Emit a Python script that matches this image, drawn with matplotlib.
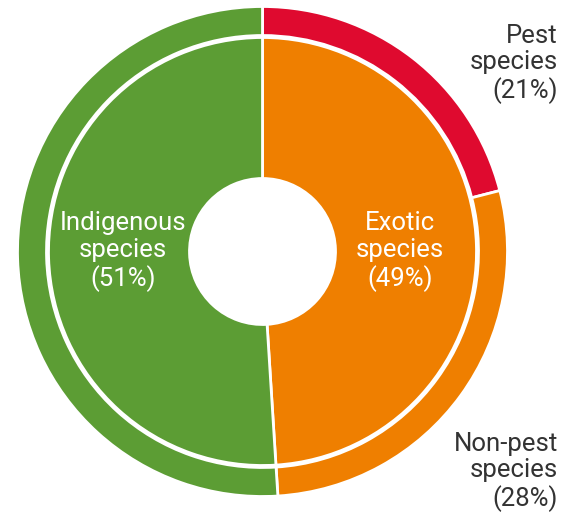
import matplotlib
matplotlib.use("Agg")
import matplotlib.pyplot as plt

plt.rcParams['font.family'] = ['Roboto', 'DejaVu Sans']

inner_labels = ["Exotic\nspecies\n(49%)", "Indigenous\nspecies\n(51%)"]
inner_values = [49, 51]
outer_labels = ["Pest\nspecies\n(21%)", "Non-pest\nspecies\n(28%)", "Indigenous"]
outer_values = [21, 28, 51]

GREEN = "#5c9d34"
ORANGE = "#ef7f00"
RED = "#df0a2f"
TEXT = "#333333"

W, H = 562, 516
cx, cy = 262.5, 251.5
R_out = 245
R_mid = 216
R_hole = 73
FS = 18.5
LS = 1.14

fig = plt.figure(figsize=(W / 100, H / 100), dpi=100)
ax = fig.add_axes([0, 0, 1, 1])

ax.pie(outer_values, radius=R_out, startangle=90, counterclock=False,
       colors=[RED, ORANGE, GREEN],
       wedgeprops=dict(width=R_out - R_mid, edgecolor="white", linewidth=2))
ax.pie(inner_values, radius=R_mid - 2, startangle=90, counterclock=False,
       colors=[ORANGE, GREEN],
       wedgeprops=dict(width=R_mid - 2 - R_hole, edgecolor="white", linewidth=2))

ax.set_xlim(-cx, W - cx)
ax.set_ylim(-(H - cy), cy)
ax.set_aspect("equal")
ax.axis("off")

ax.text(137.5, 0, inner_labels[0], ha="center", va="center", color="white",
        fontsize=FS, linespacing=LS)
ax.text(-139.5, 0, inner_labels[1], ha="center", va="center", color="white",
        fontsize=FS, linespacing=LS)
ax.text(558 - cx, cy - 64, outer_labels[0], ha="right", va="center", color=TEXT,
        fontsize=FS, linespacing=LS)
ax.text(558 - cx, cy - 472, outer_labels[1], ha="right", va="center", color=TEXT,
        fontsize=FS, linespacing=LS)

fig.savefig("out.png", dpi=100)
